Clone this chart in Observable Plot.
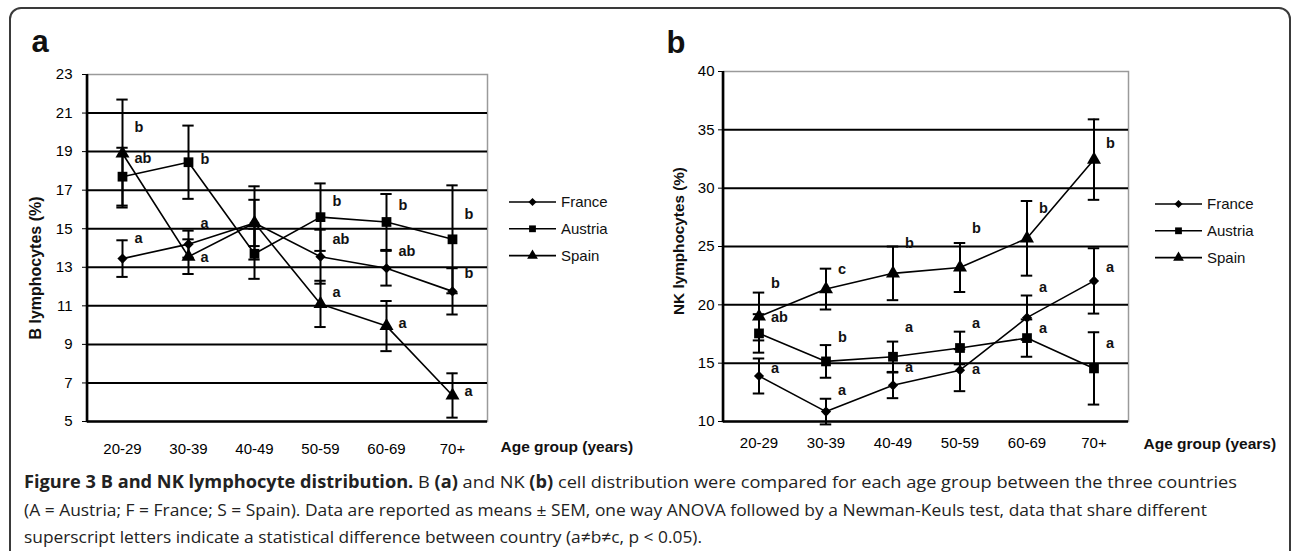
<!DOCTYPE html>
<html>
<head>
<meta charset="utf-8">
<script src="https://cdn.jsdelivr.net/npm/d3@7"></script>
<script src="https://cdn.jsdelivr.net/npm/@observablehq/plot@0.6"></script>
<style>
  html, body { margin: 0; padding: 0; background: #fff; }
  #root { position: relative; width: 1295px; height: 551px; overflow: hidden; background: #fff; }
  #border { position: absolute; left: 9px; top: 7px; width: 1282px; height: 640px; box-sizing: border-box;
            border: 2px solid #3a3a3a; border-radius: 12px; }
  .panel { position: absolute; top: 0; }
  #cap { position: absolute; left: 24px; top: 468px; font-family: "Liberation Sans Narrow", "Open Sans", sans-serif;
         font-size: 17px; color: #222; }
  #cap .ln { white-space: nowrap; height: 27.5px; line-height: 27.5px; }
  #cap .ln span.inner { display: inline-block; transform-origin: 0 50%; }
  .legend { position: absolute; top: 0; }
</style>
</head>
<body>
<div id="root">
  <div id="border"></div>
  <div id="pa" class="panel" style="left:0px"></div>
  <div id="pb" class="panel" style="left:640px"></div>
  <div id="cap">
    <div class="ln" data-w="1213"><span class="inner"><b>Figure 3 B and NK lymphocyte distribution.</b> B <b>(a)</b> and NK <b>(b)</b> cell distribution were compared for each age group between the three countries</span></div>
    <div class="ln" data-w="1183"><span class="inner">(A = Austria; F = France; S = Spain). Data are reported as means ± SEM, one way ANOVA followed by a Newman-Keuls test, data that share different</span></div>
    <div class="ln" data-w="678"><span class="inner">superscript letters indicate a statistical difference between country (a≠b≠c, p &lt; 0.05).</span></div>
  </div>
</div>
<script>
// ---------- data ----------
const ages = ["20-29", "30-39", "40-49", "50-59", "60-69", "70+"];
const countries = ["France", "Austria", "Spain"];

// Panel a: B lymphocytes (%)
const bFrance     = [13.45, 14.2, 15.3, 13.55, 12.95, 11.75];
const bFranceErr  = [0.95, 0.7, 1.2, 1.4, 0.9, 1.2];
const bAustria    = [17.7, 18.45, 13.7, 15.6, 15.35, 14.45];
const bAustriaErr = [1.5, 1.9, 1.3, 1.75, 1.45, 2.8];
const bSpain      = [18.9, 13.55, 15.3, 11.1, 9.95, 6.35];
const bSpainErr   = [2.8, 0.9, 1.9, 1.2, 1.3, 1.15];
const bTicks = [5, 7, 9, 11, 13, 15, 17, 19, 21, 23];
const bLetterAge  = ["20-29","20-29","20-29","30-39","30-39","30-39","50-59","50-59","50-59","60-69","60-69","60-69","70+","70+","70+"];
const bLetterY    = [20.25, 18.65, 14.5, 18.6, 15.3, 13.5, 16.4, 14.45, 11.7, 16.2, 13.8, 10.1, 15.75, 12.7, 6.55];
const bLetterText = ["b","ab","a","b","a","a","b","ab","a","b","ab","a","b","b","a"];

// Panel b: NK lymphocytes (%)
const nkFrance     = [13.9, 10.85, 13.1, 14.4, 18.9, 22.05];
const nkFranceErr  = [1.5, 1.1, 1.1, 1.8, 1.9, 2.8];
const nkAustria    = [17.55, 15.15, 15.55, 16.3, 17.15, 14.55];
const nkAustriaErr = [1.65, 1.4, 1.3, 1.4, 1.6, 3.1];
const nkSpain      = [19.0, 21.35, 22.7, 23.2, 25.7, 32.45];
const nkSpainErr   = [2.05, 1.75, 2.3, 2.1, 3.2, 3.45];
const nkTicks = [10, 15, 20, 25, 30, 35, 40];
const nkLetterAge  = ["20-29","20-29","20-29","30-39","30-39","30-39","40-49","40-49","40-49","50-59","50-59","50-59","60-69","60-69","60-69","70+","70+","70+"];
const nkLetterY    = [21.8, 18.9, 14.55, 23.0, 17.2, 12.7, 25.3, 18.05, 14.6, 26.55, 18.4, 14.5, 28.3, 21.5, 18.0, 33.8, 23.2, 16.7];
const nkLetterText = ["b","ab","a","c","b","a","b","a","a","b","a","a","b","a","a","b","a","a"];

// ---------- helpers ----------
function buildRows(series) {
  const out = [];
  series.forEach(([country, vals, errs]) => {
    vals.forEach((v, i) => out.push({ age: ages[i], country, v, e: errs[i] }));
  });
  return out;
}
function buildLetters(a, y, t) { return a.map((age, i) => ({ age, v: y[i], t: t[i] })); }

const FONT = "'Liberation Sans', Arial, Helvetica, sans-serif";

function makePanel(cfg) {
  const rows = buildRows(cfg.series);
  const letters = buildLetters(cfg.lAge, cfg.lY, cfg.lText);
  const bw = (cfg.width - cfg.ml - cfg.mr) / ages.length;
  const capInset = (bw - 12) / 2;
  const chart = Plot.plot({
    width: cfg.width, height: cfg.height,
    marginLeft: cfg.ml, marginRight: cfg.mr, marginTop: cfg.mt, marginBottom: cfg.mb,
    style: { fontFamily: FONT, background: "transparent", color: "black", overflow: "visible" },
    x: { type: "band", domain: ages, padding: 0, label: null },
    y: { domain: cfg.yDomain, label: null },
    marks: [
      Plot.frame({ stroke: "#9a9a9a", strokeWidth: 1.5 }),
      Plot.ruleY(cfg.ticks.slice(1, -1), { stroke: "black", strokeWidth: 2 }),
      Plot.ruleY([cfg.yDomain[0]], { stroke: "black", strokeWidth: 2.6 }),
      Plot.axisY({ ticks: cfg.ticks, tickSize: 5, tickPadding: cfg.yPad, fontSize: 15, label: null, tickFormat: d => String(d) }),
      Plot.axisX({ tickSize: 0, tickPadding: cfg.xPad, fontSize: 15, label: null }),
      Plot.line(rows, { x: "age", y: "v", z: "country", stroke: "black", strokeWidth: 1.6 }),
      Plot.ruleX(rows, { x: "age", y1: d => d.v - d.e, y2: d => d.v + d.e, stroke: "black", strokeWidth: 2 }),
      Plot.tickY(rows, { x: "age", y: d => d.v + d.e, insetLeft: capInset, insetRight: capInset, stroke: "black", strokeWidth: 2 }),
      Plot.tickY(rows, { x: "age", y: d => d.v - d.e, insetLeft: capInset, insetRight: capInset, stroke: "black", strokeWidth: 2 }),
      Plot.dot(rows.filter(d => d.country === "France"), { x: "age", y: "v", symbol: "diamond2", r: 4.6, fill: "black", stroke: "none" }),
      Plot.dot(rows.filter(d => d.country === "Austria"), { x: "age", y: "v", symbol: "square", r: 5.5, fill: "black", stroke: "none" }),
      Plot.dot(rows.filter(d => d.country === "Spain"), { x: "age", y: "v", symbol: "triangle", r: 5.2, fill: "black", stroke: "none" }),
      Plot.text(letters, { x: "age", y: "v", text: "t", dx: 12, textAnchor: "start", fontWeight: "bold", fontSize: 14.5, fill: "#111" }),
      Plot.text(["Age group (years)"], { frameAnchor: "bottom-right", dx: cfg.xLabDx, dy: cfg.xLabDy, textAnchor: "start", lineAnchor: "middle", fontWeight: "bold", fontSize: 15.5, fill: "#111" }),
      Plot.text([cfg.panel], { frameAnchor: "top-left", dx: cfg.pDx, dy: cfg.pDy, textAnchor: "start", lineAnchor: "middle", fontWeight: "bold", fontSize: 31, fill: "#111" })
    ]
  });
  // left axis line and rotated y title, positioned from the chart's own scales
  const xs = chart.scale("x"), ys = chart.scale("y");
  const svg = d3.select(chart.tagName.toLowerCase() === "svg" ? chart : chart.querySelector("svg"));
  svg.append("line")
    .attr("x1", xs.range[0]).attr("x2", xs.range[0])
    .attr("y1", ys.apply(cfg.yDomain[0]) + 1.3).attr("y2", ys.apply(cfg.yDomain[1]))
    .attr("stroke", "black").attr("stroke-width", 2.6);
  const midY = (ys.range[0] + ys.range[1]) / 2;
  svg.append("text")
    .attr("transform", `translate(${xs.range[0] + cfg.yLabDx},${midY + cfg.yLabDy}) rotate(-90)`)
    .attr("text-anchor", "middle").attr("dy", "0.35em")
    .attr("font-family", FONT).attr("font-weight", "bold").attr("font-size", cfg.yLabSize).attr("fill", "#111")
    .text(cfg.yLabel);
  document.getElementById(cfg.id).appendChild(chart);

  // legend
  const lg = d3.select("#root").append("svg").attr("class", "legend")
    .style("left", cfg.legX + "px").style("top", cfg.legY + "px")
    .attr("width", 120).attr("height", 90);
  const syms = { France: d3.symbolDiamond2, Austria: d3.symbolSquare, Spain: d3.symbolTriangle };
  const sizes = { France: 42, Austria: 46, Spain: 50 };
  countries.forEach((c, i) => {
    const g = lg.append("g").attr("transform", `translate(0,${10 + i * 26.8})`);
    g.append("line").attr("x1", 0).attr("x2", 47).attr("y1", 0).attr("y2", 0).attr("stroke", "black").attr("stroke-width", 1.6);
    g.append("path").attr("d", d3.symbol().type(syms[c]).size(sizes[c])()).attr("transform", "translate(23.5,0)").attr("fill", "black");
    g.append("text").attr("x", 52).attr("y", 0).attr("dy", "0.35em").attr("font-family", FONT).attr("font-size", 15).attr("fill", "#111").text(c);
  });
}

makePanel({
  id: "pa", panel: "a", width: 645, height: 465, ml: 87, mr: 158, mt: 74, mb: 44,
  yDomain: [5, 23], ticks: bTicks, yPad: 10, xPad: 21.5,
  series: [["France", bFrance, bFranceErr], ["Austria", bAustria, bAustriaErr], ["Spain", bSpain, bSpainErr]],
  lAge: bLetterAge, lY: bLetterY, lText: bLetterText,
  yLabel: "B lymphocytes (%)", yLabDx: -52, yLabDy: 20.5, yLabSize: 16,
  xLabDx: 13, xLabDy: 26, pDx: -56, pDy: -32,
  legX: 509, legY: 192
});
makePanel({
  id: "pb", panel: "b", width: 655, height: 465, ml: 83, mr: 167, mt: 71, mb: 44,
  yDomain: [10, 40], ticks: nkTicks, yPad: 4, xPad: 15.5,
  series: [["France", nkFrance, nkFranceErr], ["Austria", nkAustria, nkAustriaErr], ["Spain", nkSpain, nkSpainErr]],
  lAge: nkLetterAge, lY: nkLetterY, lText: nkLetterText,
  yLabel: "NK lymphocytes (%)", yLabDx: -44, yLabDy: -5, yLabSize: 15.3,
  xLabDx: 15, xLabDy: 23, pDx: -57, pDy: -28,
  legX: 1155, legY: 194
});

// fit caption lines to the reference widths
document.querySelectorAll("#cap .ln").forEach(ln => {
  const inner = ln.querySelector(".inner");
  const w = inner.getBoundingClientRect().width;
  const target = +ln.dataset.w;
  if (w > 0) inner.style.transform = `scaleX(${target / w})`;
});
</script>
</body>
</html>
